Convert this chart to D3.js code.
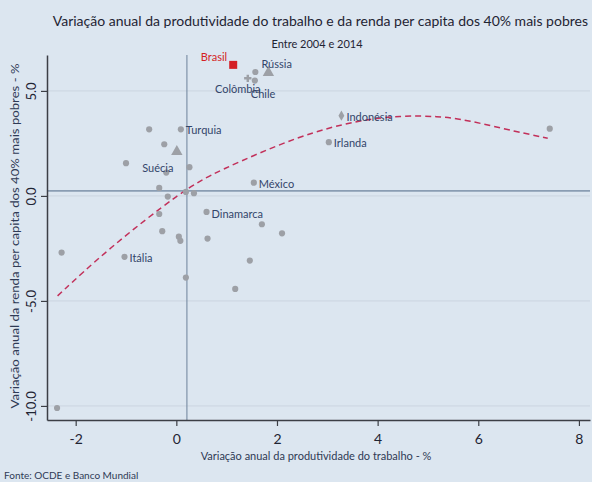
<!DOCTYPE html>
<html>
<head>
<meta charset="utf-8">
<script src="https://cdn.jsdelivr.net/npm/d3@7"></script>
<style>
  html, body { margin: 0; padding: 0; background: #dce6f0; }
  svg { display: block; font-family: Lato, "Open Sans", sans-serif; }
</style>
</head>
<body>
<svg id="chart" width="592" height="482"></svg>
<script>
// Dados (produtividade x renda dos 40% mais pobres)
const countries = ['Brasil', 'Rússia', '', 'Colômbia', 'Chile', 'Turquia', '', '', '', '', '', 'Suécia', '', '', '', '',
  'México', 'Dinamarca', '', '', '', '', '', '', '', 'Itália', '', '', '', '', '', 'Indonésia', 'Irlanda', ''];
const prodX = [1.13, 1.83, 1.57, 1.42, 1.56, 0.09, -0.54, -0.24, 0.01, -1.00, 0.26, -0.20, -0.34, -0.17, 0.19, 0.35,
  1.54, 0.60, -0.34, 1.70, 2.10, -0.28, 0.05, 0.08, 0.62, -1.03, 1.46, 0.19, 1.17, -2.28, -2.37, 3.28, 3.03, 7.42];
const rendaY = [6.24, 5.87, 5.90, 5.60, 5.49, 3.17, 3.17, 2.46, 2.11, 1.56, 1.37, 1.11, 0.38, -0.03, 0.19, 0.13,
  0.63, -0.76, -0.86, -1.35, -1.78, -1.68, -1.94, -2.14, -2.03, -2.90, -3.08, -3.89, -4.43, -2.70, -10.10, 3.82, 2.56, 3.20];
const markers = ['square', 'triangle', 'dot', 'plus', 'dot', 'dot', 'dot', 'dot', 'triangle', 'dot', 'dot', 'dot', 'dot', 'dot', 'dot', 'dot',
  'dot', 'dot', 'dot', 'dot', 'dot', 'dot', 'dot', 'dot', 'dot', 'dot', 'dot', 'dot', 'dot', 'dot', 'dot', 'diamond', 'dot', 'dot'];

const fitX = [-2.36, -1.38, 0.14, 0.80, 2.46, 3.65, 4.45, 5.20, 5.77, 6.77, 7.38];
const fitY = [-4.76, -2.57, 0.29, 1.16, 2.90, 3.62, 3.82, 3.80, 3.62, 3.05, 2.75];

// médias (linhas de referência)
const meanX = 0.21;
const meanY = 0.24;

const xTicks = [-2, 0, 2, 4, 6, 8];
const yTicks = [5, 0, -5, -10];

// posição dos rótulos em relação ao ponto (estilo, não dado)
const labelPos = {
  'Brasil':    { dx: -6, dy: -8, anchor: 'end' },
  'Rússia':    { dx: -7, dy: -8, anchor: 'start' },
  'Colômbia':  { dx: -10, dy: 11, anchor: 'middle' },
  'Chile':     { dx: -4, dy: 14, anchor: 'start' },
  'Turquia':   { dx: 5, dy: 1, anchor: 'start' },
  'Suécia':    { dx: -24, dy: -4, anchor: 'start' },
  'México':    { dx: 5, dy: 1, anchor: 'start' },
  'Dinamarca': { dx: 5, dy: 2, anchor: 'start' },
  'Itália':    { dx: 5, dy: 1, anchor: 'start' },
  'Indonésia': { dx: 5, dy: 1, anchor: 'start' },
  'Irlanda':   { dx: 5, dy: 1, anchor: 'start' }
};

const svg = d3.select('#chart');
const L = 47, R = 590, T = 55, B = 420;

const x = d3.scaleLinear().domain([-2.57, 8.22]).range([L, R]);
const y = d3.scaleLinear().domain([-10.67, 6.71]).range([B, T]);

// títulos
svg.append('text')
  .attr('x', 588).attr('y', 26)
  .attr('text-anchor', 'end')
  .attr('font-size', 14).attr('fill', '#1f2433')
  .text('Variação anual da produtividade do trabalho e da renda per capita dos 40% mais pobres');
svg.append('text')
  .attr('x', 317).attr('y', 48)
  .attr('text-anchor', 'middle')
  .attr('font-size', 11).attr('fill', '#1f2433')
  .text('Entre 2004 e 2014');

// grade horizontal
svg.append('g').selectAll('line')
  .data(yTicks)
  .join('line')
  .attr('x1', L).attr('x2', R)
  .attr('y1', d => y(d)).attr('y2', d => y(d))
  .attr('stroke', '#cbd5e0').attr('stroke-width', 1);

// linhas das médias
svg.append('line')
  .attr('x1', L).attr('x2', R)
  .attr('y1', y(meanY)).attr('y2', y(meanY))
  .attr('stroke', '#8a9db3').attr('stroke-width', 1.6);
svg.append('line')
  .attr('x1', x(meanX)).attr('x2', x(meanX))
  .attr('y1', T).attr('y2', B)
  .attr('stroke', '#7f91a8').attr('stroke-width', 1.2);

// eixos
const xAxis = d3.axisBottom(x).tickValues(xTicks).tickSize(6).tickSizeOuter(0).tickFormat(d3.format('d'));
const gx = svg.append('g').attr('transform', `translate(0,${B})`).call(xAxis);
gx.select('.domain').attr('stroke', '#3c3f46').attr('stroke-width', 1.5);
gx.selectAll('.tick line').attr('stroke', '#3c3f46').attr('stroke-width', 1.2);
gx.selectAll('.tick text')
  .attr('y', 14).attr('font-size', 14).attr('fill', '#1f2433')
  .attr('font-family', 'Lato, sans-serif')
  .text(d => d < 0 ? '-' + Math.abs(d) : d);

const yAxis = d3.axisLeft(y).tickValues(yTicks).tickSize(6).tickSizeOuter(0).tickFormat(d3.format('.1f'));
const gy = svg.append('g').attr('transform', `translate(${L},0)`).call(yAxis);
gy.select('.domain').attr('stroke', '#3c3f46').attr('stroke-width', 1.5);
gy.selectAll('.tick line').attr('stroke', '#3c3f46').attr('stroke-width', 1.2);
gy.selectAll('.tick text')
  .attr('x', 0).attr('dy', 0)
  .attr('transform', 'translate(-16,0) rotate(-90)')
  .attr('text-anchor', 'middle')
  .attr('dominant-baseline', 'central')
  .attr('font-size', 13).attr('fill', '#1f2433')
  .attr('font-family', 'Lato, sans-serif')
  .text(d => d < 0 ? '-' + d3.format('.1f')(Math.abs(d)) : d3.format('.1f')(d));

// títulos dos eixos
svg.append('text')
  .attr('transform', 'translate(19,236) rotate(-90)')
  .attr('text-anchor', 'middle')
  .attr('font-size', 11).attr('fill', '#2f3a55')
  .attr('textLength', 345).attr('lengthAdjust', 'spacingAndGlyphs')
  .text('Variação anual da renda per capita dos 40% mais pobres - %');
svg.append('text')
  .attr('x', 316).attr('y', 460)
  .attr('text-anchor', 'middle')
  .attr('font-size', 11).attr('fill', '#2f3a55')
  .text('Variação anual da produtividade do trabalho - %');
svg.append('text')
  .attr('x', 4).attr('y', 479)
  .attr('font-size', 10).attr('fill', '#2f3a55')
  .text('Fonte: OCDE e Banco Mundial');

// curva ajustada
const fitPts = fitX.map((v, i) => [v, fitY[i]]);
svg.append('path')
  .datum(fitPts)
  .attr('fill', 'none')
  .attr('stroke', '#c2305a').attr('stroke-width', 1.5)
  .attr('stroke-dasharray', '6,4')
  .attr('d', d3.line().x(d => x(d[0])).y(d => y(d[1])).curve(d3.curveBasis));

// pontos
const pts = prodX.map((v, i) => ({ name: countries[i], px: v, py: rendaY[i], m: markers[i] }));
const sym = { dot: d3.symbolCircle, triangle: d3.symbolTriangle, diamond: d3.symbolDiamond, square: d3.symbolSquare, plus: d3.symbolCross };
const size = { dot: 30, triangle: 56, diamond: 30, square: 64, plus: 30 };

svg.append('g').selectAll('path')
  .data(pts)
  .join('path')
  .attr('transform', d => `translate(${x(d.px)},${y(d.py)})`)
  .attr('d', d => d3.symbol(sym[d.m], size[d.m])())
  .attr('fill', d => d.m === 'square' ? '#d41f26' : '#9da0a6');

// rótulos
svg.append('g').selectAll('text')
  .data(pts.filter(d => d.name))
  .join('text')
  .attr('x', d => x(d.px) + labelPos[d.name].dx)
  .attr('y', d => y(d.py) + labelPos[d.name].dy)
  .attr('dy', '0.35em')
  .attr('text-anchor', d => labelPos[d.name].anchor)
  .attr('font-size', 11)
  .attr('fill', d => d.name === 'Brasil' ? '#d41f26' : '#33456a')
  .text(d => d.name);
</script>
</body>
</html>
